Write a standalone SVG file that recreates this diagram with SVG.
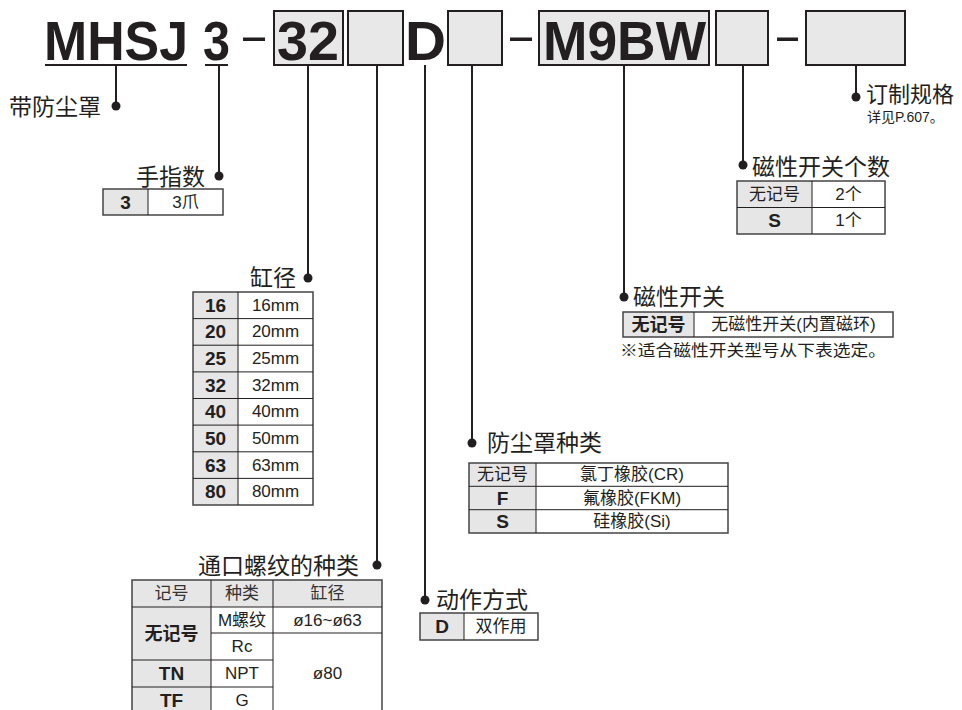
<svg xmlns="http://www.w3.org/2000/svg" width="962" height="710" viewBox="0 0 962 710">
<style>
text{font-family:"Liberation Sans","Noto Sans CJK SC",sans-serif;fill:#231f20}
.big{font-size:55px;font-weight:bold}
.lbl{font-size:23px}
.note{font-size:14px}
.t{font-size:17px;text-anchor:middle;dominant-baseline:central}
.tc{font-size:17px;text-anchor:middle;dominant-baseline:central}
.tb{font-size:19px;font-weight:bold;text-anchor:middle;dominant-baseline:central}
.tbc{font-size:18px;font-weight:bold;text-anchor:middle;dominant-baseline:central}
.hd{fill:#333}
.box{fill:#e8e8e8;stroke:#231f20;stroke-width:2}
.dash{fill:#231f20}
.g{fill:#e6e6e6}
.frame{fill:none;stroke:#444;stroke-width:1.5}
.ln{stroke:#231f20;stroke-width:1;fill:none}
.con{stroke:#231f20;stroke-width:2;fill:none}
.dot{fill:#231f20}
</style>

<g id="code">
<text class="big" x="44" y="60" textLength="144" lengthAdjust="spacingAndGlyphs">MHSJ</text>
<line class="con" x1="45" y1="65" x2="187" y2="65"/>
<text class="big" x="203" y="60" textLength="27" lengthAdjust="spacingAndGlyphs">3</text>
<line class="con" x1="205" y1="65" x2="228" y2="65"/>
<rect class="dash" x="243" y="37.5" width="22" height="3.5"/>
<rect class="box" x="274" y="11" width="69" height="54"/>
<text class="big" x="277" y="60" textLength="62" lengthAdjust="spacingAndGlyphs">32</text>
<rect class="box" x="348" y="11" width="55" height="54"/>
<text class="big" x="405" y="60" textLength="41" lengthAdjust="spacingAndGlyphs">D</text>
<rect class="box" x="448" y="11" width="54" height="54"/>
<rect class="dash" x="510" y="37.5" width="22" height="3.5"/>
<rect class="box" x="539" y="11" width="170" height="54"/>
<text class="big" x="543" y="60" textLength="163" lengthAdjust="spacingAndGlyphs">M9BW</text>
<rect class="box" x="716" y="11" width="52" height="54"/>
<rect class="dash" x="777" y="37.5" width="21" height="3.5"/>
<rect class="box" x="806" y="11" width="99" height="54"/>
</g>

<g id="connectors">
<line class="con" x1="116" y1="65" x2="116" y2="106"/><circle class="dot" cx="116" cy="106" r="4.5"/>
<line class="con" x1="219" y1="65" x2="219" y2="176"/><circle class="dot" cx="219" cy="176" r="4.5"/>
<line class="con" x1="308" y1="65" x2="308" y2="278"/><circle class="dot" cx="308" cy="278" r="4.5"/>
<line class="con" x1="377" y1="65" x2="377" y2="565"/><circle class="dot" cx="377" cy="565" r="4.5"/>
<line class="con" x1="425" y1="65" x2="425" y2="600"/><circle class="dot" cx="425" cy="600" r="4.5"/>
<line class="con" x1="472" y1="65" x2="472" y2="443"/><circle class="dot" cx="472" cy="443" r="4.5"/>
<line class="con" x1="624" y1="65" x2="624" y2="297"/><circle class="dot" cx="624" cy="297" r="4.5"/>
<line class="con" x1="743" y1="65" x2="743" y2="165"/><circle class="dot" cx="743" cy="165" r="4.5"/>
<line class="con" x1="856" y1="65" x2="856" y2="97"/><circle class="dot" cx="856" cy="97" r="4.5"/>
</g>

<g id="dustcover">
<text class="lbl" x="9" y="115">带防尘罩</text>
</g>

<g id="fingers">
<text class="lbl" x="136" y="185">手指数</text>
<rect class="g" x="103" y="189" width="45" height="26"/>
<rect class="frame" x="103" y="189" width="120" height="26"/>
<line class="ln" x1="148" y1="189" x2="148" y2="215"/>
<text class="tb" x="125.5" y="202">3</text>
<text class="t" x="185.5" y="202">3爪</text>
</g>

<g id="bore">
<text class="lbl" x="250" y="286">缸径</text>
<rect class="g" x="193" y="292" width="45" height="213"/>
<rect class="frame" x="193" y="292" width="120" height="213"/>
<line class="ln" x1="238" y1="292" x2="238" y2="505"/>
<path class="ln" d="M193 318.6H313M193 345.2H313M193 371.9H313M193 398.5H313M193 425.1H313M193 451.8H313M193 478.4H313"/>
<text class="tb" x="215.5" y="305.3">16</text><text class="t" x="275.5" y="305.3">16mm</text>
<text class="tb" x="215.5" y="331.9">20</text><text class="t" x="275.5" y="331.9">20mm</text>
<text class="tb" x="215.5" y="358.5">25</text><text class="t" x="275.5" y="358.5">25mm</text>
<text class="tb" x="215.5" y="385.2">32</text><text class="t" x="275.5" y="385.2">32mm</text>
<text class="tb" x="215.5" y="411.8">40</text><text class="t" x="275.5" y="411.8">40mm</text>
<text class="tb" x="215.5" y="438.4">50</text><text class="t" x="275.5" y="438.4">50mm</text>
<text class="tb" x="215.5" y="465.1">63</text><text class="t" x="275.5" y="465.1">63mm</text>
<text class="tb" x="215.5" y="491.7">80</text><text class="t" x="275.5" y="491.7">80mm</text>
</g>

<g id="port">
<text class="lbl" x="198" y="574">通口螺纹的种类</text>
<rect class="g" x="132" y="580" width="250" height="27"/>
<rect class="g" x="132" y="607" width="79" height="107"/>
<rect class="frame" x="132" y="580" width="250" height="134"/>
<path class="ln" d="M132 607H382M211 633H382M132 660H273M132 687H273M211 580V714M273 580V714"/>
<text class="tc hd" x="171.5" y="593.5">记号</text>
<text class="tc hd" x="242" y="593.5">种类</text>
<text class="tc hd" x="327.5" y="593.5">缸径</text>
<text class="tbc" x="171.5" y="633.5">无记号</text>
<text class="t" x="242" y="620">M螺纹</text>
<text class="t" x="327.5" y="620">ø16~ø63</text>
<text class="t" x="242" y="646.5">Rc</text>
<text class="tb" x="171.5" y="673.5">TN</text>
<text class="t" x="242" y="673.5">NPT</text>
<text class="t" x="327.5" y="673.5">ø80</text>
<text class="tb" x="171.5" y="700.5">TF</text>
<text class="t" x="242" y="700.5">G</text>
</g>

<g id="action">
<text class="lbl" x="436" y="608">动作方式</text>
<rect class="g" x="420" y="613" width="44" height="27"/>
<rect class="frame" x="420" y="613" width="118" height="27"/>
<line class="ln" x1="464" y1="613" x2="464" y2="640"/>
<text class="tb" x="442" y="626.5">D</text>
<text class="tc" x="501" y="626.5">双作用</text>
</g>

<g id="boot">
<text class="lbl" x="487" y="451">防尘罩种类</text>
<rect class="g" x="469" y="463" width="67" height="70"/>
<rect class="frame" x="469" y="463" width="259" height="70"/>
<path class="ln" d="M469 486.3H728M469 509.7H728M536 463V533"/>
<text class="tc" x="502.5" y="474.7">无记号</text>
<text class="tb" x="502.5" y="498">F</text>
<text class="tb" x="502.5" y="521.3">S</text>
<text class="t" x="632" y="474.7">氯丁橡胶(CR)</text>
<text class="t" x="632" y="498">氟橡胶(FKM)</text>
<text class="t" x="632" y="521.3">硅橡胶(Si)</text>
</g>

<g id="switch">
<text class="lbl" x="633" y="305">磁性开关</text>
<rect class="g" x="623" y="312" width="71" height="25"/>
<rect class="frame" x="623" y="312" width="270" height="25"/>
<line class="ln" x1="694" y1="312" x2="694" y2="337"/>
<text class="tbc" x="658.5" y="324.5">无记号</text>
<text class="tc" x="793.5" y="324.5">无磁性开关(内置磁环)</text>
<text x="620" y="356" style="font-size:16px" textLength="266" lengthAdjust="spacingAndGlyphs">※适合磁性开关型号从下表选定。</text>
</g>

<g id="switchcount">
<text class="lbl" x="752" y="175">磁性开关个数</text>
<rect class="g" x="737" y="181" width="75" height="53"/>
<rect class="frame" x="737" y="181" width="148" height="53"/>
<path class="ln" d="M737 207.5H885M812 181V234"/>
<text class="tc" x="774.5" y="194.3">无记号</text>
<text class="t" x="848.5" y="194.3">2个</text>
<text class="tb" x="774.5" y="220.8">S</text>
<text class="t" x="848.5" y="220.8">1个</text>
</g>

<g id="custom">
<text class="lbl" x="866" y="102" style="font-size:22px">订制规格</text>
<text class="note" x="867" y="122">详见P.607。</text>
</g>
</svg>
